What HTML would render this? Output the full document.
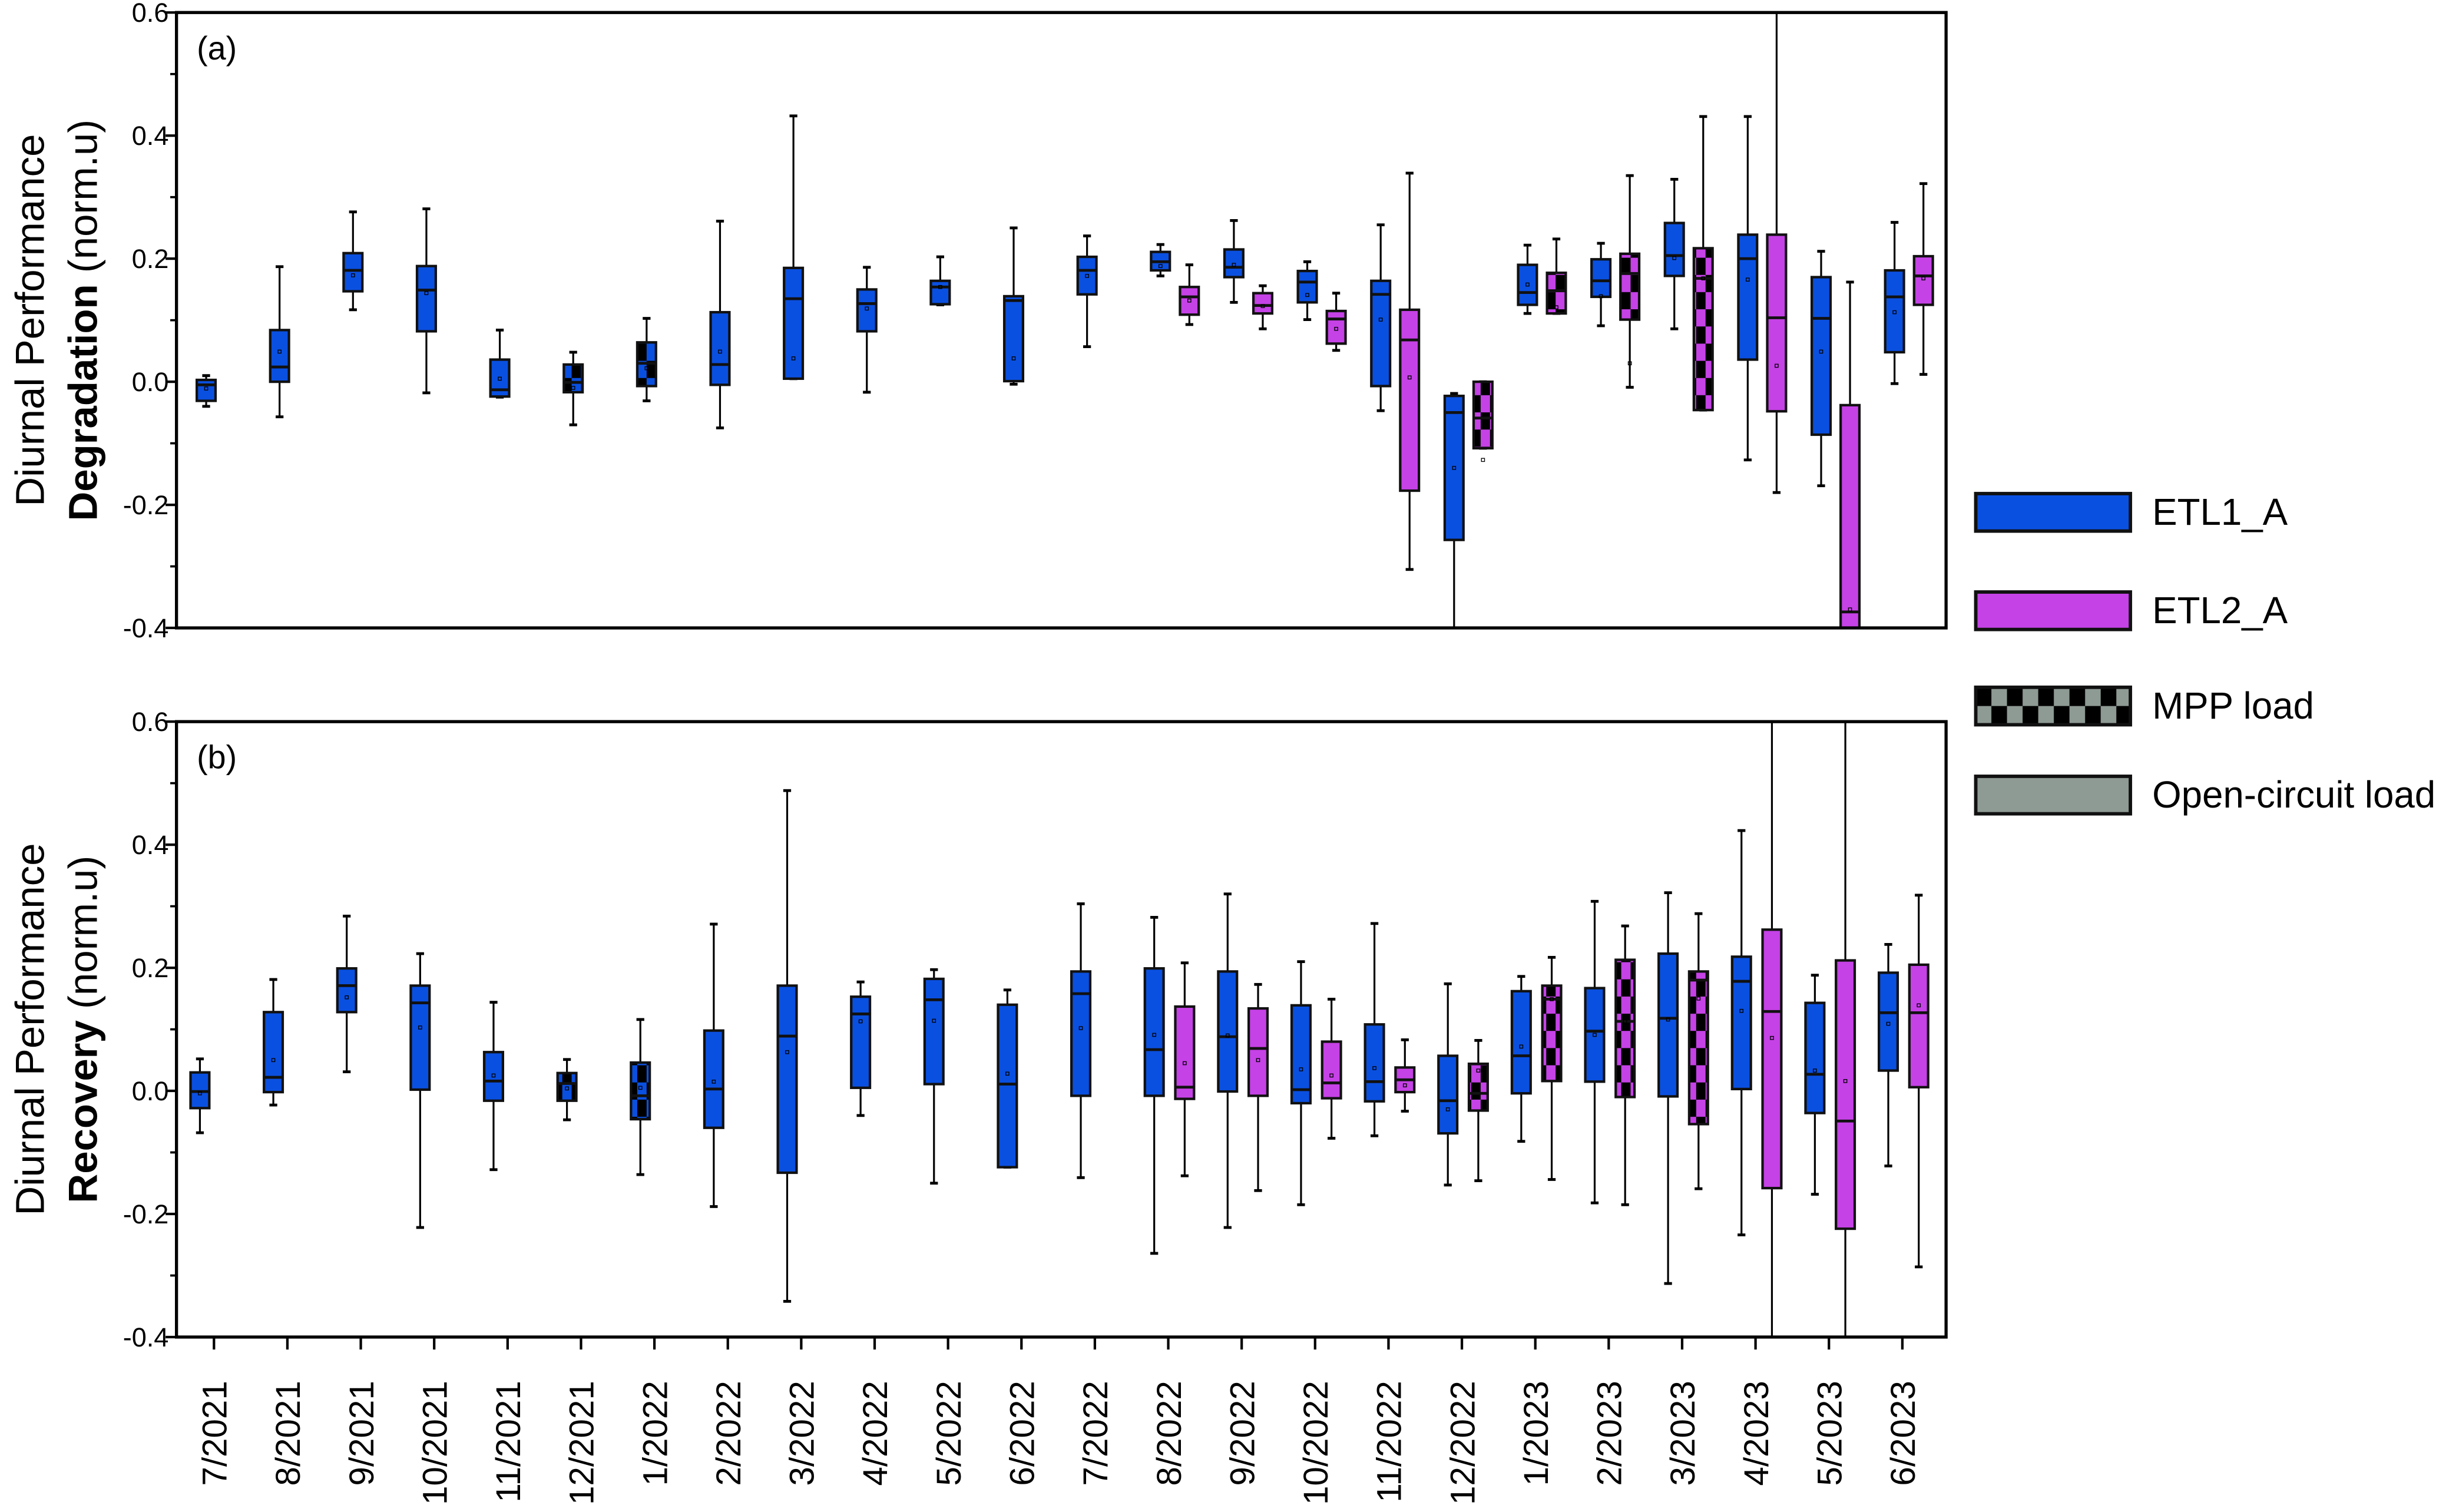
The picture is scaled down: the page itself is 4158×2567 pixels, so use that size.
<!DOCTYPE html>
<html><head><meta charset="utf-8">
<style>
html,body{margin:0;padding:0;background:#fff;}
svg{display:block;}
text{font-family:"Liberation Sans Narrow","Liberation Sans",sans-serif;fill:#000;}
.ttl{font-family:"Liberation Sans",sans-serif;}
</style></head>
<body>
<svg id="chart" width="4158" height="2567" viewBox="0 0 1568 968" xmlns="http://www.w3.org/2000/svg">
<defs>
<pattern id="chkBlue" patternUnits="userSpaceOnUse" width="12" height="22" x="0" y="0">
<rect width="12" height="22" fill="#0a50e0"/><rect width="6" height="11" fill="#000"/><rect x="6" y="11" width="6" height="11" fill="#000"/></pattern>
<pattern id="chkPink" patternUnits="userSpaceOnUse" width="12" height="22" x="0" y="0">
<rect width="12" height="22" fill="#c542e6"/><rect width="6" height="11" fill="#000"/><rect x="6" y="11" width="6" height="11" fill="#000"/></pattern>
<pattern id="chkGrey" patternUnits="userSpaceOnUse" width="20" height="24" x="1265" y="440">
<rect width="20" height="24" fill="#8e9a94"/><rect width="10" height="12" fill="#000"/><rect x="10" y="12" width="10" height="12" fill="#000"/></pattern>
<clipPath id="clipA"><rect x="113" y="8" width="1133" height="394"/></clipPath>
<clipPath id="clipB"><rect x="113" y="462" width="1133" height="394"/></clipPath>
</defs>
<g id="layer"></g>
</svg>
<script>
// categories
const categories = ["7/2021","8/2021","9/2021","10/2021","11/2021","12/2021","1/2022","2/2022","3/2022","4/2022","5/2022","6/2022","7/2022","8/2022","9/2022","10/2022","11/2022","12/2022","1/2023","2/2023","3/2023","4/2023","5/2023","6/2023"];
const yTicks = [0.6,0.4,0.2,0.0,-0.2,-0.4];
const yTickLabels = ["0.6","0.4","0.2","0.0","-0.2","-0.4"];
// boxes: [categoryIndex, low, q1, median, q3, high, mean]
const degETL1 = [
[0,-0.040,-0.031,-0.005,0.003,0.010,-0.011],
[1,-0.057,0.000,0.024,0.084,0.187,0.049],
[2,0.117,0.147,0.181,0.209,0.276,0.173],
[3,-0.018,0.082,0.149,0.188,0.281,0.144],
[4,-0.025,-0.024,-0.013,0.036,0.084,0.005],
[5,-0.070,-0.017,-0.001,0.028,0.048,-0.010],
[6,-0.031,-0.007,0.030,0.064,0.103,0.022],
[7,-0.075,-0.005,0.028,0.113,0.261,0.049],
[8,0.005,0.005,0.135,0.185,0.432,0.038],
[9,-0.017,0.082,0.127,0.150,0.186,0.119],
[10,0.125,0.126,0.154,0.164,0.203,0.154],
[11,-0.004,0.001,0.132,0.139,0.250,0.038],
[12,0.057,0.142,0.181,0.203,0.237,0.172],
[13,0.172,0.181,0.195,0.211,0.223,0.188],
[14,0.129,0.170,0.186,0.215,0.262,0.190],
[15,0.101,0.129,0.162,0.180,0.195,0.141],
[16,-0.047,-0.007,0.142,0.164,0.255,0.101],
[17,-0.45,-0.257,-0.050,-0.023,-0.019,-0.140],
[18,0.111,0.125,0.145,0.190,0.222,0.158],
[19,0.091,0.138,0.164,0.199,0.225,0.139],
[20,0.086,0.172,0.205,0.258,0.329,0.201],
[21,-0.127,0.036,0.200,0.239,0.431,0.166],
[22,-0.169,-0.086,0.103,0.170,0.212,0.049],
[23,-0.003,0.048,0.138,0.181,0.259,0.113]];
const degETL2 = [
[13,0.093,0.109,0.138,0.154,0.190,0.132],
[14,0.086,0.111,0.124,0.144,0.156,0.123],
[15,0.051,0.062,0.102,0.115,0.144,0.086],
[16,-0.305,-0.177,0.068,0.117,0.339,0.007],
[17,-0.108,-0.108,-0.059,0.000,0.000,-0.127],
[18,0.111,0.111,0.148,0.177,0.232,0.121],
[19,-0.009,0.101,0.176,0.208,0.335,0.030],
[20,-0.046,-0.046,0.168,0.217,0.431,0.168],
[21,-0.180,-0.048,0.104,0.239,0.7,0.026],
[22,-0.45,-0.45,-0.374,-0.038,0.162,-0.370],
[23,0.012,0.125,0.172,0.204,0.322,0.168]];
const recETL1 = [
[0,-0.068,-0.028,-0.001,0.030,0.052,-0.004],
[1,-0.023,-0.002,0.022,0.128,0.181,0.050],
[2,0.031,0.128,0.171,0.199,0.284,0.152],
[3,-0.222,0.002,0.143,0.171,0.223,0.103],
[4,-0.128,-0.016,0.016,0.063,0.144,0.025],
[5,-0.047,-0.016,0.012,0.029,0.051,0.004],
[6,-0.136,-0.046,-0.008,0.046,0.116,0.005],
[7,-0.188,-0.060,0.003,0.098,0.271,0.015],
[8,-0.342,-0.133,0.089,0.171,0.488,0.063],
[9,-0.040,0.005,0.125,0.153,0.177,0.113],
[10,-0.150,0.011,0.148,0.182,0.197,0.114],
[11,-0.124,-0.124,0.011,0.140,0.164,0.028],
[12,-0.141,-0.008,0.158,0.194,0.304,0.102],
[13,-0.264,-0.008,0.067,0.199,0.282,0.091],
[14,-0.222,-0.001,0.088,0.194,0.320,0.090],
[15,-0.185,-0.020,0.002,0.139,0.210,0.035],
[16,-0.073,-0.017,0.015,0.108,0.272,0.037],
[17,-0.153,-0.069,-0.016,0.057,0.174,-0.030],
[18,-0.082,-0.004,0.057,0.162,0.186,0.072],
[19,-0.182,0.015,0.097,0.167,0.308,0.091],
[20,-0.313,-0.009,0.118,0.223,0.322,0.116],
[21,-0.234,0.003,0.178,0.218,0.423,0.130],
[22,-0.168,-0.036,0.027,0.143,0.188,0.033],
[23,-0.122,0.033,0.127,0.192,0.238,0.109]];
const recETL2 = [
[13,-0.138,-0.013,0.006,0.137,0.208,0.045],
[14,-0.162,-0.008,0.069,0.134,0.173,0.050],
[15,-0.077,-0.012,0.013,0.080,0.149,0.025],
[16,-0.033,-0.002,0.018,0.038,0.083,0.009],
[17,-0.146,-0.032,-0.004,0.044,0.082,0.033],
[18,-0.144,0.016,0.149,0.171,0.217,0.149],
[19,-0.185,-0.010,0.113,0.213,0.268,0.113],
[20,-0.159,-0.054,0.180,0.194,0.288,0.150],
[21,-0.45,-0.158,0.129,0.262,0.7,0.086],
[22,-0.45,-0.224,-0.049,0.212,0.7,0.016],
[23,-0.286,0.006,0.127,0.205,0.318,0.139]];
// MPP-load (checkered) category indices
const degMPP1 = [5,6];
const degMPP2 = [17,18,19,20];
const recMPP1 = [5,6];
const recMPP2 = [17,18,19,20];

const NS="http://www.w3.org/2000/svg";
const layer=document.getElementById('layer');
const X0=113,X1=1246;
function xTick(i){return 137+47*i;}
function mk(tag,attrs,parent){const e=document.createElementNS(NS,tag);for(const k in attrs)e.setAttribute(k,attrs[k]);(parent||layer).appendChild(e);return e;}
const BLUE="#0a50e0",PINK="#c542e6";

function panel(top,label,titleBold,name,e1,e2,mpp1,mpp2,clip,off1,off2,showXTicks){
  const bot=top+394;
  const yS=v=>top+(0.6-v)*394;
  const g=mk('g',{});
  
  
  yTicks.forEach((v,i)=>{
    const t=mk('line',{x1:X0-7,x2:X0,y1:yS(v),y2:yS(v),stroke:'#000','stroke-width':1.6},g);
    
    
    const tx=mk('text',{x:X0-5,y:yS(v)+6,'text-anchor':'end','font-size':17},g);
    tx.textContent=yTickLabels[i];
    
    
    if(i<yTicks.length-1){
      const m=mk('line',{x1:X0-4,x2:X0,y1:yS(v-0.1),y2:yS(v-0.1),stroke:'#000','stroke-width':1.4},g);
      
      
    }
  });
  if(showXTicks){
    categories.forEach((c,i)=>{
      const t=mk('line',{x1:xTick(i),x2:xTick(i),y1:bot,y2:bot+8,stroke:'#000','stroke-width':1.6},g);
      
      
    });
  }
  const pg=mk('g',{'clip-path':'url(#'+clip+')'},g);
  
  
  function drawBox(d,off,fill,chkFill,mpp,series){
    const cx=xTick(d[0])+off,w=12;
    const bg=mk('g',{},pg);
    
    
    mk('line',{x1:cx,x2:cx,y1:yS(d[5]),y2:yS(d[1]),stroke:'#000','stroke-width':1.2},bg);
    mk('line',{x1:cx-2.5,x2:cx+2.5,y1:yS(d[5]),y2:yS(d[5]),stroke:'#000','stroke-width':1.8},bg);
    mk('line',{x1:cx-2.5,x2:cx+2.5,y1:yS(d[1]),y2:yS(d[1]),stroke:'#000','stroke-width':1.8},bg);
    const f=mpp.indexOf(d[0])>=0?'url(#'+chkFill+')':fill;
    mk('rect',{x:cx-w/2,y:yS(d[4]),width:w,height:Math.max(0.5,yS(d[2])-yS(d[4])),fill:f,stroke:'#111','stroke-width':1.6},bg);
    mk('line',{x1:cx-w/2,x2:cx+w/2,y1:yS(d[3]),y2:yS(d[3]),stroke:'#111','stroke-width':1.8},bg);
    mk('rect',{x:cx-1,y:yS(d[6])-1,width:2,height:2,fill:'none',stroke:'#000','stroke-width':0.5},bg);
  }
  e1.forEach(d=>drawBox(d,off1,BLUE,'chkBlue',mpp1,'etl1'));
  e2.forEach(d=>drawBox(d,off2,PINK,'chkPink',mpp2,'etl2'));
  const fr=mk('rect',{x:X0,y:top,width:X1-X0,height:394,fill:'none',stroke:'#000','stroke-width':2},g);
  
  
  const pl=mk('text',{x:126,y:top+30,'font-size':21},g);
  pl.textContent=label;
  
  
  const cy=top+197;
  const t1=mk('text',{class:'ttl',x:0,y:0,'font-size':26,'text-anchor':'middle',transform:'translate(28,'+cy+') rotate(-90)'},g);
  t1.textContent='Diurnal Performance';
  
  
  const t2=mk('text',{class:'ttl',x:0,y:0,'font-size':26,'text-anchor':'middle',transform:'translate(62,'+cy+') rotate(-90)'},g);
  const b=mk('tspan',{'font-weight':'bold'},t2);b.textContent=titleBold;
  const r=mk('tspan',{},t2);r.textContent=' (norm.u)';
  
  
}
panel(8,'(a)','Degradation','degradation',degETL1,degETL2,degMPP1,degMPP2,'clipA',-5,13.5,false);
panel(462,'(b)','Recovery','recovery',recETL1,recETL2,recMPP1,recMPP2,'clipB',-9,10.5,true);

categories.forEach((c,i)=>{
  const t=mk('text',{class:'ttl',x:0,y:0,'font-size':22,'text-anchor':'end',transform:'translate('+(xTick(i)+8)+',884) rotate(-90)'});
  t.textContent=c;
  
  
});

const legend=[["ETL1_A",BLUE,316],["ETL2_A",PINK,379],["MPP load","url(#chkGrey)",440],["Open-circuit load","#8e9a94",497]];
legend.forEach(l=>{
  const g=mk('g',{});
  
  
  mk('rect',{x:1265,y:l[2],width:99,height:24,fill:l[1],stroke:'#111','stroke-width':2.2},g);
  const t=mk('text',{x:1378,y:l[2]+20,'font-size':24},g);
  t.textContent=l[0];
});
</script>
</body></html>
